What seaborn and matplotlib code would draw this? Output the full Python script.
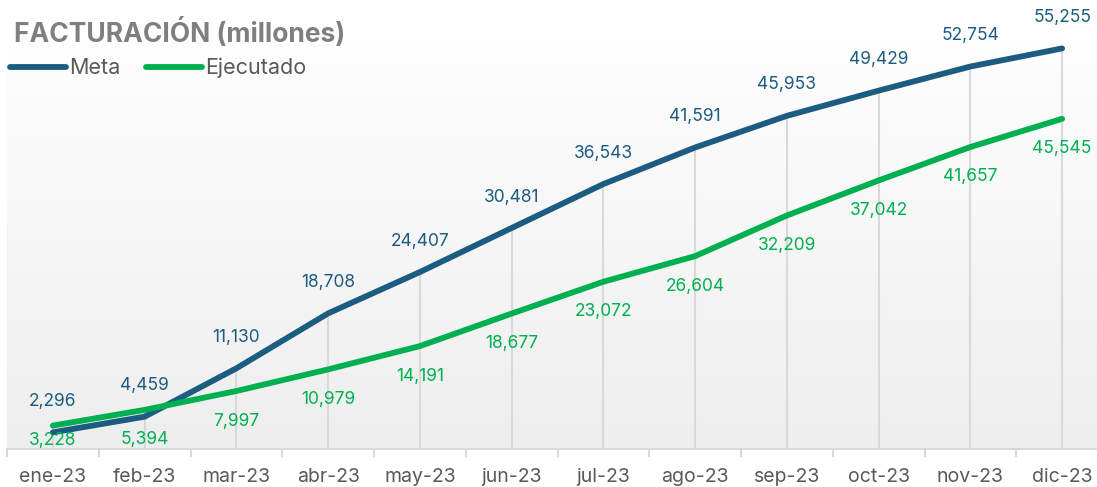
import numpy as np
import pandas as pd
import matplotlib
matplotlib.use("Agg")
import matplotlib.pyplot as plt
import seaborn as sns
from matplotlib.colors import LinearSegmentedColormap
from matplotlib.lines import Line2D

months = ["ene-23", "feb-23", "mar-23", "abr-23", "may-23", "jun-23",
          "jul-23", "ago-23", "sep-23", "oct-23", "nov-23", "dic-23"]
meta = [2296, 4459, 11130, 18708, 24407, 30481, 36543, 41591, 45953, 49429, 52754, 55255]
ejecutado = [3228, 5394, 7997, 10979, 14191, 18677, 23072, 26604, 32209, 37042, 41657, 45545]

C_META = "#1B5C80"
C_EJEC = "#00B050"
GRAY_TXT = "#595959"

sns.set_theme(style="white")
plt.rcParams["font.family"] = ["Inter", "DejaVu Sans"]

W, H = 1097, 487
fig = plt.figure(figsize=(W / 100, H / 100), dpi=100)
ax = fig.add_axes([7 / W, (H - 449) / H, 1101 / W, 435 / H])

x = np.arange(len(months))
df = pd.DataFrame({"x": np.concatenate([x, x]),
                   "value": meta + ejecutado,
                   "serie": ["Meta"] * len(x) + ["Ejecutado"] * len(x)})

ax.set_xlim(-0.5, len(months) - 0.5)
ax.set_ylim(0, 60000)

# background gradient
grad = np.linspace(0, 1, 256).reshape(-1, 1)
cmap = LinearSegmentedColormap.from_list("bg", ["#EEEEEE", "#FFFFFF"])
ax.imshow(grad, extent=[-0.5, len(months) - 0.5, 0, 60000], origin="lower",
          aspect="auto", cmap=cmap, zorder=0)

# drop lines
tops = np.maximum(meta, ejecutado)
ax.vlines(x, 0, tops, color="#D9D9D9", lw=1.5, zorder=1)

sns.lineplot(data=df, x="x", y="value", hue="serie",
             palette={"Meta": C_META, "Ejecutado": C_EJEC},
             hue_order=["Meta", "Ejecutado"], lw=4.2, ax=ax, zorder=3,
             legend=False, solid_capstyle="round")

# labels
px_per_unit = 435 / 60000
for xi, m, e in zip(x, meta, ejecutado):
    ax.annotate(f"{m:,}", (xi, m), xytext=(0, 31), textcoords="offset pixels",
                ha="center", va="center", fontsize=12.5, color=C_META)
    off = -min(30, e * px_per_unit - 9)
    ax.annotate(f"{e:,}", (xi, e), xytext=(0, off), textcoords="offset pixels",
                ha="center", va="center", fontsize=12.5, color=C_EJEC)

for s in ["top", "right", "left"]:
    ax.spines[s].set_visible(False)
ax.spines["bottom"].set_color("#D9D9D9")
ax.spines["bottom"].set_linewidth(1.5)
ax.set_yticks([])
ax.set_xticks(x)
ax.set_xticklabels(months, fontsize=14, color=GRAY_TXT)
ax.set_xticks(np.arange(-0.5, len(months), 1), minor=True)
ax.tick_params(axis="x", which="major", length=0, pad=14)
ax.tick_params(axis="x", which="minor", length=6, width=1.5, color="#D9D9D9",
               bottom=True, direction="out")
ax.set_xlabel("")
ax.set_ylabel("")

fig.text(14 / W, 1 - 33 / H, "FACTURACIÓN (millones)", fontsize=19,
         fontweight="bold", color="#7F7F7F", va="center", ha="left")

handles = [Line2D([], [], color=C_META, lw=4.2, solid_capstyle="round"),
           Line2D([], [], color=C_EJEC, lw=4.2, solid_capstyle="round")]
leg = fig.legend(handles, ["Meta", "Ejecutado"], loc="center left",
                 bbox_to_anchor=(10 / W, 1 - 68 / H), ncol=2, frameon=False,
                 fontsize=15.5, handlelength=2.6, handletextpad=0.15,
                 columnspacing=1.2, borderaxespad=0, borderpad=0)
for t in leg.get_texts():
    t.set_color(GRAY_TXT)

fig.savefig("out.png", dpi=100)
